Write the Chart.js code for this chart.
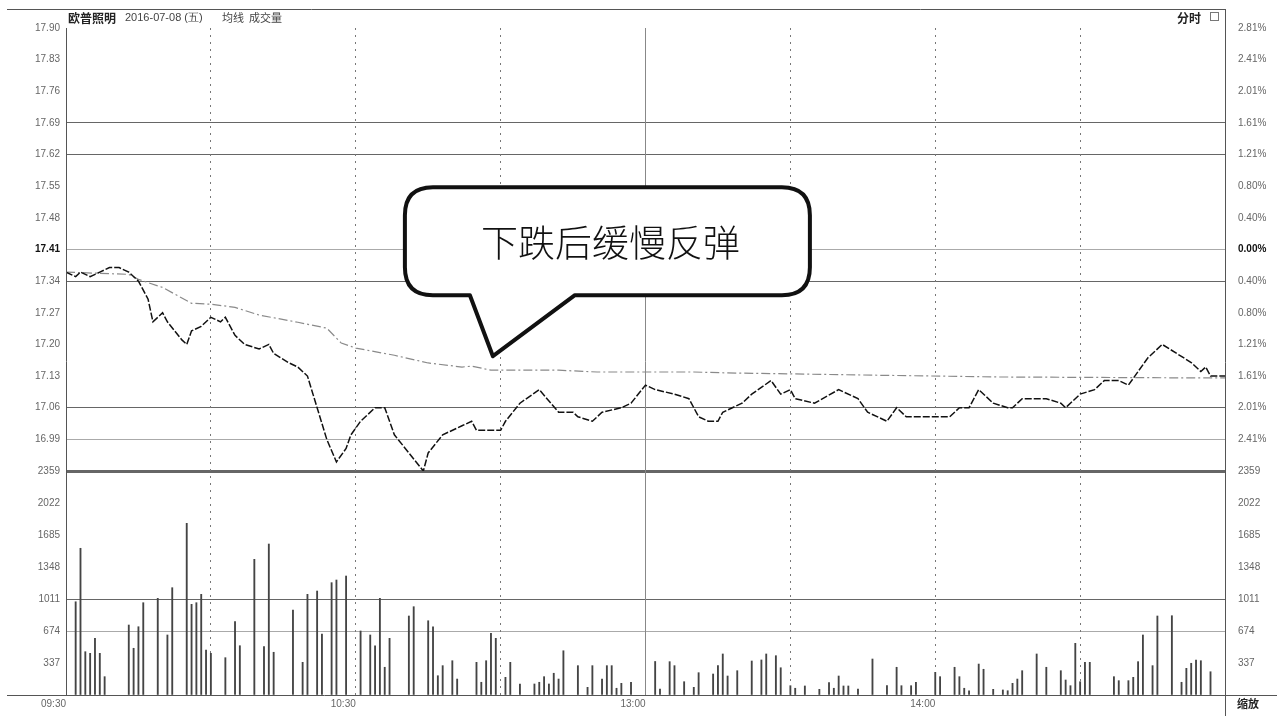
<!DOCTYPE html>
<html>
<head>
<meta charset="utf-8">
<script src="https://cdn.jsdelivr.net/npm/chart.js@4.4.1/dist/chart.umd.min.js"></script>
<style>
html, body { margin: 0; padding: 0; background: #fff; }
canvas { display: block; }
</style>
</head>
<body>
<canvas id="chart" width="1282" height="716"></canvas>
<script>
// 分时数据: 分钟序号 (09:30 = 0, 15:00 = 240)
const priceMinutes = [0, 2, 3, 5, 7, 9, 11, 13, 15, 17, 18, 20, 21, 24, 25, 26, 28, 30, 32, 33, 35, 37, 40, 42, 43, 46, 48, 50, 52, 54, 56, 58, 59, 61, 64, 66, 68, 71, 74, 75, 78, 82, 84, 85, 90, 91, 94, 98, 102, 105, 106, 109, 111, 115, 117, 120, 122, 126, 129, 131, 133, 135, 136, 140, 142, 146, 148, 150, 151, 155, 160, 164, 166, 170, 172, 174, 178, 183, 185, 187, 189, 192, 195, 196, 198, 201, 203, 206, 207, 210, 213, 215, 218, 220, 222, 224, 227, 230, 233, 235, 236, 237, 240];
const priceValues = [17.36, 17.35, 17.36, 17.35, 17.36, 17.37, 17.37, 17.36, 17.34, 17.30, 17.25, 17.27, 17.25, 17.21, 17.20, 17.23, 17.24, 17.26, 17.25, 17.26, 17.22, 17.20, 17.19, 17.20, 17.18, 17.16, 17.15, 17.13, 17.06, 16.99, 16.94, 16.97, 17.00, 17.03, 17.06, 17.06, 17.00, 16.96, 16.92, 16.96, 17.00, 17.02, 17.03, 17.01, 17.01, 17.03, 17.07, 17.10, 17.05, 17.05, 17.04, 17.03, 17.05, 17.06, 17.07, 17.11, 17.10, 17.09, 17.08, 17.04, 17.03, 17.03, 17.05, 17.07, 17.09, 17.12, 17.09, 17.10, 17.08, 17.07, 17.10, 17.08, 17.05, 17.03, 17.06, 17.04, 17.04, 17.04, 17.06, 17.06, 17.10, 17.07, 17.06, 17.06, 17.08, 17.08, 17.08, 17.07, 17.06, 17.09, 17.10, 17.12, 17.12, 17.11, 17.14, 17.17, 17.20, 17.18, 17.16, 17.14, 17.15, 17.13, 17.13];

const avgMinutes = [0, 13, 15, 20, 26, 30, 35, 40, 48, 54, 57, 60, 68, 75, 82, 84, 88, 102, 110, 130, 137, 167, 193, 233, 240];
const avgValues = [17.360, 17.355, 17.344, 17.326, 17.291, 17.289, 17.282, 17.265, 17.249, 17.236, 17.203, 17.192, 17.176, 17.159, 17.150, 17.152, 17.143, 17.143, 17.139, 17.139, 17.137, 17.132, 17.128, 17.126, 17.126];

const volMinutes = [2, 3, 4, 5, 6, 7, 8, 13, 14, 15, 16, 19, 21, 22, 25, 26, 27, 28, 29, 30, 33, 35, 36, 39, 41, 42, 43, 47, 49, 50, 52, 53, 55, 56, 58, 61, 63, 64, 65, 66, 67, 71, 72, 75, 76, 77, 78, 80, 81, 85, 86, 87, 88, 89, 91, 92, 94, 97, 98, 99, 100, 101, 102, 103, 106, 108, 109, 111, 112, 113, 114, 115, 117, 122, 123, 125, 126, 128, 130, 131, 134, 135, 136, 137, 139, 142, 144, 145, 147, 148, 150, 151, 153, 156, 158, 159, 160, 161, 162, 164, 167, 170, 172, 173, 175, 176, 180, 181, 184, 185, 186, 187, 189, 190, 192, 194, 195, 196, 197, 198, 201, 203, 206, 207, 208, 209, 210, 211, 212, 217, 218, 220, 221, 222, 223, 225, 226, 229, 231, 232, 233, 234, 235, 237];
const volValues = [982, 1545, 456, 439, 597, 439, 193, 737, 492, 719, 972, 1018, 632, 1130, 1808, 955, 972, 1060, 474, 439, 393, 772, 519, 1429, 509, 1590, 450, 895, 344, 1060, 1095, 642, 1183, 1211, 1253, 674, 632, 519, 1018, 292, 597, 832, 930, 782, 719, 203, 309, 361, 168, 344, 134, 361, 650, 597, 186, 344, 116, 116, 134, 193, 116, 229, 168, 466, 309, 81, 309, 168, 309, 309, 71, 123, 134, 353, 63, 351, 309, 140, 81, 235, 221, 309, 432, 200, 256, 358, 369, 432, 414, 287, 98, 71, 95, 60, 130, 71, 200, 95, 95, 63, 379, 98, 292, 98, 98, 134, 239, 193, 292, 193, 71, 45, 326, 271, 60, 53, 45, 123, 168, 256, 432, 292, 256, 158, 98, 544, 140, 344, 344, 193, 151, 151, 186, 351, 632, 309, 832, 835, 134, 281, 334, 369, 361, 245];

// 坐标刻度 (由下到上)
const priceTicks = [16.92, 16.99, 17.06, 17.13, 17.20, 17.27, 17.34, 17.41, 17.48, 17.55, 17.62, 17.69, 17.76, 17.83, 17.90];
const priceTickLabels = ['', '16.99', '17.06', '17.13', '17.20', '17.27', '17.34', '17.41', '17.48', '17.55', '17.62', '17.69', '17.76', '17.83', '17.90'];
const pctTickLabels = ['', '2.41%', '2.01%', '1.61%', '1.21%', '0.80%', '0.40%', '0.00%', '0.40%', '0.80%', '1.21%', '1.61%', '2.01%', '2.41%', '2.81%'];
const volTicks = [0, 337, 674, 1011, 1348, 1685, 2022, 2359];
const volTickLabels = ['', '337', '674', '1011', '1348', '1685', '2022', '2359'];
const timeTicks = [0, 60, 120, 180];
const timeTickLabels = ['09:30', '10:30', '13:00', '14:00'];
const halfHourTicks = [30, 60, 90, 150, 180, 210];

const stockName = '欧普照明';
const headerText = '2016-07-08 (五)';
const headerItems = '均线  成交量';
const calloutText = '下跌后缓慢反弹';
const calloutTip = [88.4, 17.174];

const tickFont = { family: 'Liberation Sans', size: 10 };
const boldFont = { family: 'Liberation Sans', size: 10, weight: 'bold' };
const centerIdx = 7;

// 价格区横线样式 (按刻度序号)
const priceGridColor = { 0: '#666', 1: '#aaa', 2: '#666', 6: '#666', 7: '#aaa', 10: '#666', 11: '#666' };
const volGridColor = { 2: '#aaa', 3: '#666' };

const decor = {
    id: 'decor',
    beforeDraw(chart) {
        const ctx = chart.ctx;
        ctx.save();
        ctx.fillStyle = '#fff';
        ctx.fillRect(0, 0, chart.width, chart.height);
        ctx.restore();
    },
    afterDraw(chart) {
        const { ctx, chartArea: a, scales } = chart;
        ctx.save();
        // 外框
        ctx.strokeStyle = '#555';
        ctx.lineWidth = 1;
        ctx.beginPath();
        ctx.moveTo(7, 9.5); ctx.lineTo(a.right, 9.5);
        ctx.moveTo(a.left + 0.5, a.top); ctx.lineTo(a.left + 0.5, a.bottom);
        ctx.moveTo(a.right + 0.5, 9); ctx.lineTo(a.right + 0.5, chart.height);
        ctx.moveTo(7, a.bottom + 0.5); ctx.lineTo(1277, a.bottom + 0.5);
        ctx.stroke();

        // 标题
        ctx.fillStyle = '#222';
        ctx.textBaseline = 'middle';
        ctx.font = 'bold 12px "Noto Sans CJK SC"';
        ctx.fillText(stockName, 68, 18);
        ctx.font = '11px "Liberation Sans"';
        ctx.fillStyle = '#444';
        ctx.fillText(headerText, 125, 18);
        ctx.font = '11px "Noto Sans CJK SC"';
        ctx.fillText(headerItems, 222, 18);
        ctx.font = 'bold 12px "Noto Sans CJK SC"';
        ctx.fillStyle = '#222';
        ctx.textAlign = 'right';
        ctx.fillText('分时', 1201, 18);
        ctx.strokeStyle = '#777';
        ctx.strokeRect(1210.5, 12.5, 8, 8);
        ctx.textAlign = 'center';
        ctx.font = 'bold 11px "Noto Sans CJK SC"';
        ctx.fillText('缩放', 1248, 704);

        // 标注气泡
        const tx = scales.x.getPixelForValue(calloutTip[0]);
        const ty = scales.y.getPixelForValue(calloutTip[1]);
        const L = tx - 88, R = tx + 317, T = ty - 169, B = ty - 61, r = 28;
        ctx.beginPath();
        ctx.moveTo(L + r, T);
        ctx.lineTo(R - r, T);
        ctx.quadraticCurveTo(R, T, R, T + r);
        ctx.lineTo(R, B - r);
        ctx.quadraticCurveTo(R, B, R - r, B);
        ctx.lineTo(tx + 82, B);
        ctx.lineTo(tx, ty);
        ctx.lineTo(tx - 23, B);
        ctx.lineTo(L + r, B);
        ctx.quadraticCurveTo(L, B, L, B - r);
        ctx.lineTo(L, T + r);
        ctx.quadraticCurveTo(L, T, L + r, T);
        ctx.closePath();
        ctx.fillStyle = '#fff';
        ctx.fill();
        ctx.lineWidth = 4;
        ctx.lineJoin = 'round';
        ctx.strokeStyle = '#111';
        ctx.stroke();
        ctx.fillStyle = '#111';
        ctx.font = '300 37px "Noto Sans CJK SC"';
        ctx.textAlign = 'center';
        ctx.fillText(calloutText, (L + R) / 2 + 3, (T + B) / 2 + 2);
        ctx.restore();
    }
};

const leftW = s => { s.width = 66; };
const rightW = s => { s.width = 57; };

new Chart(document.getElementById('chart'), {
    type: 'line',
    data: {
        datasets: [
            {
                type: 'line',
                data: priceMinutes.map((m, i) => ({ x: m, y: priceValues[i] })),
                xAxisID: 'x', yAxisID: 'y',
                borderColor: '#111', borderWidth: 1.5, borderDash: [7, 2],
                pointRadius: 0, tension: 0
            },
            {
                type: 'line',
                data: avgMinutes.map((m, i) => ({ x: m, y: avgValues[i] })),
                xAxisID: 'x', yAxisID: 'y',
                borderColor: '#8a8a8a', borderWidth: 1.2, borderDash: [9, 3, 2, 3],
                pointRadius: 0, tension: 0
            },
            {
                type: 'bar',
                data: volMinutes.map((m, i) => ({ x: m, y: volValues[i] })),
                xAxisID: 'x', yAxisID: 'v',
                backgroundColor: '#444', barThickness: 1.2
            }
        ]
    },
    options: {
        responsive: false,
        animation: false,
        devicePixelRatio: 1,
        layout: { padding: { top: 28, left: 0, right: 0, bottom: 0 } },
        plugins: { legend: { display: false }, tooltip: { enabled: false } },
        scales: {
            v: {
                type: 'linear', position: 'left', stack: 'left', stackWeight: 224,
                min: 0, max: 2359,
                afterFit: leftW,
                afterBuildTicks: s => { s.ticks = volTicks.map(v => ({ value: v })); },
                ticks: { callback: (val, i) => volTickLabels[i], font: tickFont, color: '#666', padding: 6 },
                grid: { drawTicks: false, color: c => volGridColor[c.index] || 'transparent' },
                border: { display: false }
            },
            yR: {
                type: 'linear', position: 'right', stack: 'right', stackWeight: 443,
                min: 16.92, max: 17.90,
                afterFit: rightW,
                afterBuildTicks: s => { s.ticks = priceTicks.map(v => ({ value: v })); },
                ticks: {
                    callback: (val, i) => pctTickLabels[i],
                    font: c => c.index === centerIdx ? boldFont : tickFont,
                    color: c => c.index === centerIdx ? '#111' : '#666',
                    padding: 5
                },
                grid: { display: false },
                border: { display: false }
            },
            y: {
                type: 'linear', position: 'left', stack: 'left', stackWeight: 443,
                min: 16.92, max: 17.90,
                afterFit: leftW,
                afterBuildTicks: s => { s.ticks = priceTicks.map(v => ({ value: v })); },
                ticks: {
                    callback: (val, i) => priceTickLabels[i],
                    font: c => c.index === centerIdx ? boldFont : tickFont,
                    color: c => c.index === centerIdx ? '#111' : '#666',
                    padding: 6
                },
                grid: {
                    drawTicks: false,
                    color: c => priceGridColor[c.index] || 'transparent',
                    lineWidth: c => c.index === 0 ? 3 : 1
                },
                border: { display: false }
            },
            vR: {
                type: 'linear', position: 'right', stack: 'right', stackWeight: 224,
                min: 0, max: 2359,
                afterFit: rightW,
                afterBuildTicks: s => { s.ticks = volTicks.map(v => ({ value: v })); },
                ticks: { callback: (val, i) => volTickLabels[i], font: tickFont, color: '#666', padding: 5 },
                grid: { display: false },
                border: { display: false }
            },
            x: {
                type: 'linear', position: 'bottom', min: 0, max: 240, offset: false,
                afterFit: s => { s.height = 21; },
                afterBuildTicks: s => { s.ticks = timeTicks.map(v => ({ value: v })); },
                ticks: {
                    callback: (val, i) => timeTickLabels[i],
                    font: tickFont, color: '#666', align: 'end',
                    autoSkip: false, maxRotation: 0, padding: 3
                },
                grid: { offset: false, drawTicks: false, color: c => c.tick && c.tick.value === 120 ? '#888' : 'transparent' },
                border: { display: false }
            },
            x2: {
                type: 'linear', position: 'top', min: 0, max: 240, offset: false,
                afterFit: s => { s.height = 0; },
                afterBuildTicks: s => { s.ticks = halfHourTicks.map(v => ({ value: v })); },
                ticks: { display: false },
                grid: { offset: false, drawTicks: false, color: '#777', lineWidth: 1 },
                border: { display: false, dash: [2, 5] }
            }
        }
    },
    plugins: [decor]
});
</script>
</body>
</html>
